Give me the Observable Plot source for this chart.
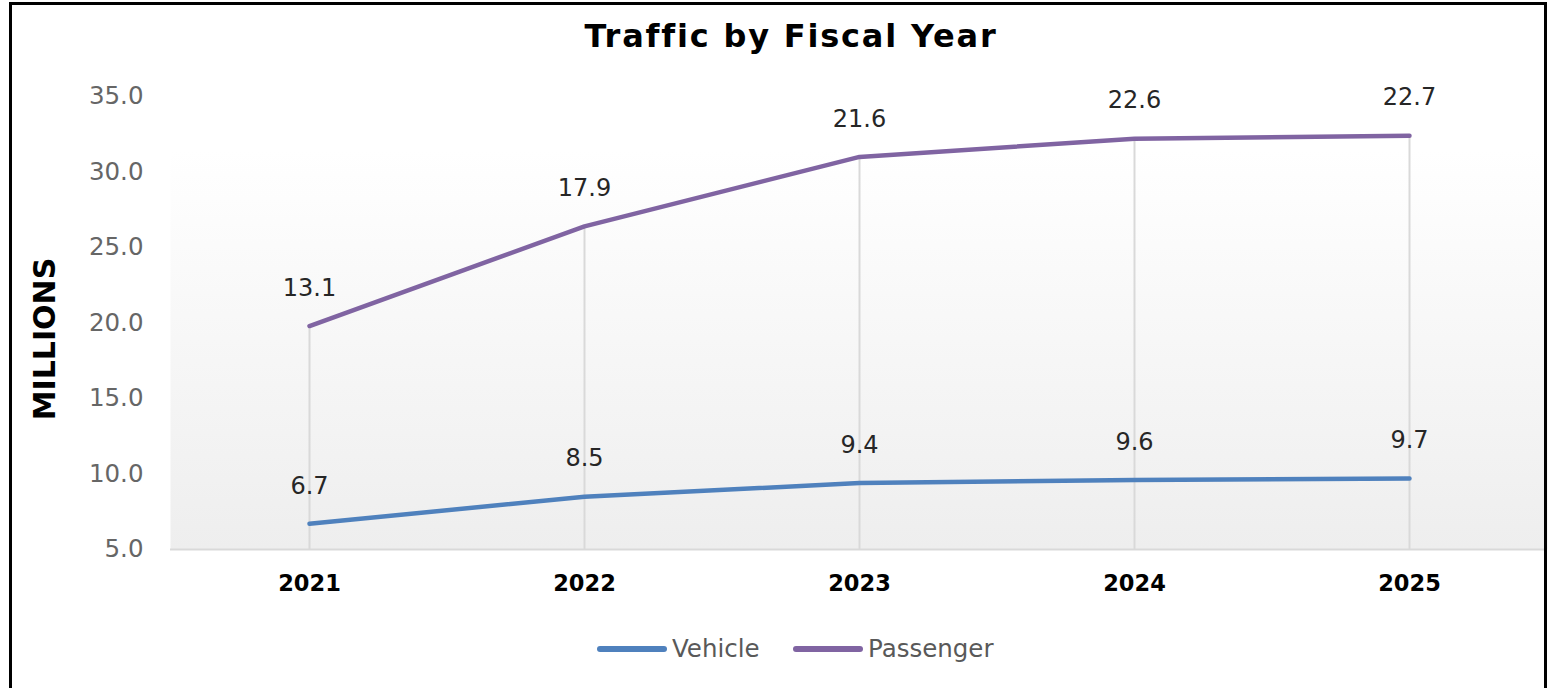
<!DOCTYPE html>
<html>
<head>
<meta charset="utf-8">
<script src="https://cdn.jsdelivr.net/npm/d3@7"></script>
<script src="https://cdn.jsdelivr.net/npm/@observablehq/plot@0.6"></script>
<style>
  html, body { margin: 0; padding: 0; background: #fff; }
  #frame { position: relative; width: 1550px; height: 688px; overflow: hidden; background: #fff; font-family: "DejaVu Sans", Verdana, sans-serif; }
  #border { position: absolute; left: 9px; top: 2px; width: 1538px; height: 760px; border: 3px solid #000; box-sizing: border-box; pointer-events: none; }
  #title { position: relative; height: 70px; }
  #title span { position: absolute; left: 791px; top: 17px; transform: translateX(-50%); font-size: 32px; letter-spacing: 1.8px; font-weight: bold; color: #000; white-space: nowrap; line-height: normal; }
  #chart { position: relative; height: 560px; }
  #legend { position: relative; height: 58px; }
  .sw { position: absolute; height: 6px; border-radius: 3px; }
  .lt { position: absolute; font-size: 24.5px; color: #595959; white-space: nowrap; line-height: normal; }
</style>
</head>
<body>
<div id="frame">
  <div id="title"><span>Traffic by Fiscal Year</span></div>
  <div id="chart"></div>
  <div id="legend"></div>
  <div id="border"></div>
</div>
<script>
const years = ["2021", "2022", "2023", "2024", "2025"];
const vehicle = [6.7, 8.5, 9.4, 9.6, 9.7];
const passenger = [13.1, 17.9, 21.6, 22.6, 22.7];
const seriesNames = ["Vehicle", "Passenger"];
const seriesColors = ["#4f81bd", "#8064a2"];
const yTicks = [5, 10, 15, 20, 25, 30, 35];

const data = [];
years.forEach((y, i) => data.push({year: y, series: "Vehicle", value: vehicle[i]}));
years.forEach((y, i) => data.push({year: y, series: "Passenger", value: passenger[i]}));
const totals = years.map((y, i) => ({year: y, total: vehicle[i] + passenger[i]}));

const gradient = () => {
  const defs = d3.create("svg:defs");
  const g = defs.append("linearGradient").attr("id", "bg").attr("x1", 0).attr("y1", 0).attr("x2", 0).attr("y2", 1);
  g.append("stop").attr("offset", "0%").attr("stop-color", "#ffffff");
  g.append("stop").attr("offset", "12%").attr("stop-color", "#ffffff");
  g.append("stop").attr("offset", "100%").attr("stop-color", "#eeeeee");
  return defs.node();
};

const chart = Plot.plot({
  width: 1550,
  height: 560,
  marginTop: 26,
  marginBottom: 81,
  marginLeft: 170,
  marginRight: 3,
  style: {fontFamily: "DejaVu Sans, Verdana, sans-serif", background: "transparent", overflow: "visible"},
  x: {type: "point", domain: years, padding: 0.5},
  y: {domain: [5, 35]},
  color: {domain: seriesNames, range: seriesColors},
  marks: [
    gradient,
    Plot.frame({fill: "url(#bg)", stroke: null}),
    Plot.ruleX(totals, {x: "year", y1: 5, y2: "total", stroke: "#d9d9d9", strokeWidth: 2}),
    Plot.ruleY([5], {stroke: "#d9d9d9", strokeWidth: 2}),
    Plot.axisY({ticks: yTicks, tickFormat: d3.format(".1f"), tickSize: 0, tickPadding: 27, fontSize: 24.5, fill: "#666666", label: null}),
    Plot.axisX({tickSize: 0, tickPadding: 26, fontSize: 22.5, fontWeight: "bold", fill: "#000", label: null}),
    Plot.text(["MILLIONS"], {frameAnchor: "left", rotate: -90, textAnchor: "middle", dx: -125, dy: 16, fontSize: 30, fontWeight: "bold", fill: "#000"}),
    Plot.lineY(data, Plot.stackY2({x: "year", y: "value", z: "series", stroke: "series", strokeWidth: 4.5, strokeLinecap: "round", strokeLinejoin: "round"})),
    Plot.text(data, Plot.stackY2({x: "year", y: "value", z: "series", text: d => d.value.toFixed(1), dy: -38, fontSize: 24, fill: "#262626"}))
  ]
});
document.getElementById("chart").appendChild(chart);

// legend
const legend = document.getElementById("legend");
const legendPos = [{sw: 597, tx: 672}, {sw: 793, tx: 868}];
seriesNames.forEach((name, i) => {
  const sw = document.createElement("div");
  sw.className = "sw";
  sw.style.left = legendPos[i].sw + "px";
  sw.style.width = "70px";
  sw.style.top = (649 - 630 - 3) + "px";
  sw.style.background = seriesColors[i];
  legend.appendChild(sw);
  const t = document.createElement("div");
  t.className = "lt";
  t.style.left = legendPos[i].tx + "px";
  t.style.top = (649 - 630 - 15) + "px";
  t.textContent = name;
  legend.appendChild(t);
});
</script>
</body>
</html>
